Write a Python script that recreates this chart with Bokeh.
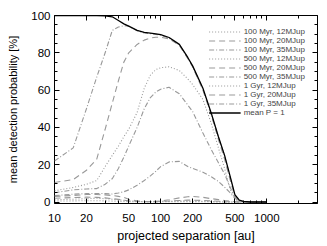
from bokeh.plotting import figure
from bokeh.models import (LogAxis, LinearAxis, FixedTicker, Legend, LegendItem,
                          Range1d, CustomJSTickFormatter)
from bokeh.embed import file_html
from bokeh.resources import INLINE

# ---- data ----
sep = [10, 15, 20, 25, 30, 35, 40, 45, 50, 60, 70, 80, 90, 100, 120, 150, 180,
       200, 250, 300, 350, 400, 450, 500, 550, 600, 700, 800, 1000]

m100_12 = [6, 7.8, 9.5, 11.5, 19, 25, 30, 35, 39, 48, 61, 68, 71, 72, 72.5, 70.5, 66,
           63, 55, 42, 29, 18, 7, 1.5, 0.4, 0.1, 0, 0, 0]
m100_20 = [10.5, 12, 17, 23, 39, 53, 65, 75, 80, 84.5, 86.8, 88, 88.3, 88.3, 87.5, 84, 77,
           72.5, 60, 46.5, 33.5, 23, 12, 3, 0.6, 0.1, 0, 0, 0]
m100_35 = [22, 29, 50, 67, 80, 92, 93.8, 94.5, 94.3, 91.8, 90.6, 90.3, 89.9, 89.4, 87.9, 84.2, 77.2,
           72.7, 60.5, 47, 34.5, 24.5, 13.5, 3.6, 0.8, 0.2, 0, 0, 0]
m500_12 = [1.2, 1.5, 1.8, 2, 1.8, 1.5, 1.2, 0.9, 0.6, 0.3, 0.2, 0.2, 0.2, 0.3, 0.4, 0.6, 0.6,
           0.5, 0.4, 0.3, 0.2, 0.1, 0, 0, 0, 0, 0, 0, 0]
m500_20 = [3, 3.5, 4, 4, 3.8, 3.5, 3, 2.5, 1.5, 0.6, 0.4, 0.3, 0.4, 0.6, 1.2, 2.2, 2.8,
           3, 2.5, 1.8, 1.3, 0.8, 0.4, 0.2, 0, 0, 0, 0, 0]
m500_35 = [5, 6.5, 7, 7.2, 9.5, 12.5, 18, 24, 30, 40, 50, 56, 59, 60.5, 61.5, 58, 52,
           48.5, 37, 28, 21, 15, 8, 2.5, 0.7, 0.2, 0, 0, 0]
m1g_12 = [0.5, 0.6, 0.7, 0.7, 0.6, 0.5, 0.4, 0.3, 0.2, 0.1, 0.1, 0.1, 0.1, 0.1, 0.2, 0.2, 0.2,
          0.2, 0.1, 0.1, 0, 0, 0, 0, 0, 0, 0, 0, 0]
m1g_20 = [2, 2.4, 2.6, 2.5, 2.2, 1.8, 1.4, 1, 0.6, 0.3, 0.2, 0.2, 0.2, 0.3, 0.5, 0.8, 1,
          1, 0.8, 0.6, 0.4, 0.2, 0.1, 0, 0, 0, 0, 0, 0]
m1g_35 = [3.4, 4.2, 4.5, 4.6, 4.5, 4.3, 4.8, 5.5, 6.5, 9, 11.5, 14, 16.5, 19, 21.5, 21.8, 19,
          18, 16, 13.5, 11, 8, 5, 2, 0.5, 0.1, 0, 0, 0]
mean_p1 = [100, 100, 100, 100, 99.8, 99.3, 97.3, 95.5, 94.3, 92, 90.9, 90.6, 90.2, 89.7, 88.2, 84.5, 77.5,
           73, 61, 47.5, 35, 25, 14, 4, 1, 0.3, 0, 0, 0]

labels = ["100 Myr, 12MJup", "100 Myr, 20MJup", "100 Myr, 35MJup",
          "500 Myr, 12MJup", "500 Myr, 20MJup", "500 Myr, 35MJup",
          "1 Gyr, 12MJup", "1 Gyr, 20MJup", "1 Gyr, 35MJup", "mean P = 1"]
series = [m100_12, m100_20, m100_35, m500_12, m500_20, m500_35,
          m1g_12, m1g_20, m1g_35, mean_p1]

x_major = [10, 20, 50, 100, 200, 500, 1000]
x_minor = [30, 40, 60, 70, 80, 90, 300, 400, 600, 700, 800, 900, 2000, 3000]
y_major = [0, 20, 40, 60, 80, 100]
y_minor = [5, 10, 15, 25, 30, 35, 45, 50, 55, 65, 70, 75, 85, 90, 95]

FONT = "Liberation Sans"
GREY = "#999999"
dashes = ["1 2", "6 4", "5 2 1 2"]

p = figure(width=327, height=246, x_axis_type="log",
           x_range=Range1d(10, 3000), y_range=Range1d(-0.8, 100),
           output_backend="svg", toolbar_location=None,
           min_border_left=54, min_border_right=10, min_border_top=15, min_border_bottom=43)
p.grid.visible = False
p.outline_line_color = "black"
p.outline_line_width = 1
p.background_fill_color = "white"
p.border_fill_color = "white"

items = []
for i, (lab, ys) in enumerate(zip(labels, series)):
    if i == len(series) - 1:
        r = p.line(sep, ys, line_color="black", line_width=1.3)
    else:
        r = p.line(sep, ys, line_color=GREY, line_width=1.1,
                   line_dash=dashes[i % 3])
    items.append(LegendItem(label=lab, renderers=[r]))


def style(ax, ticks, minor, show_labels):
    ax.ticker = FixedTicker(ticks=ticks, minor_ticks=minor)
    ax.major_tick_in = 5
    ax.major_tick_out = 0
    ax.minor_tick_in = 3
    ax.minor_tick_out = 0
    ax.axis_line_color = None
    ax.major_tick_line_color = "black"
    ax.minor_tick_line_color = "black"
    ax.major_label_text_font = FONT
    ax.major_label_text_font_size = "11.5px"
    ax.major_label_text_color = "black"
    ax.axis_label_text_font = FONT
    ax.axis_label_text_font_style = "normal"
    ax.axis_label_text_color = "black"
    if not show_labels:
        ax.formatter = CustomJSTickFormatter(code="return ''")
        ax.major_label_standoff = 0
        ax.major_label_text_font_size = "1px"


xa = p.xaxis[0]
style(xa, x_major, x_minor, True)
xa.axis_label = "projected separation [au]"
xa.axis_label_text_font_size = "12.5px"
xa.major_label_standoff = 10
xa.axis_label_standoff = 4

ya = p.yaxis[0]
style(ya, y_major, y_minor, True)
ya.axis_label = "mean detection probability [%]"
ya.axis_label_text_font_size = "11px"
ya.major_label_standoff = 4
ya.axis_label_standoff = 9

top = LogAxis()
style(top, x_major, x_minor, False)
p.add_layout(top, "above")
right = LinearAxis()
style(right, y_major, y_minor, False)
p.add_layout(right, "right")

legend = Legend(items=items, location="top_right", margin=12, padding=0, spacing=0,
                glyph_height=9, glyph_width=32, label_height=9, label_standoff=3,
                label_text_font=FONT, label_text_font_size="8px",
                background_fill_alpha=0, border_line_alpha=0)
p.add_layout(legend)

open("out.html", "w").write(file_html(p, INLINE))
